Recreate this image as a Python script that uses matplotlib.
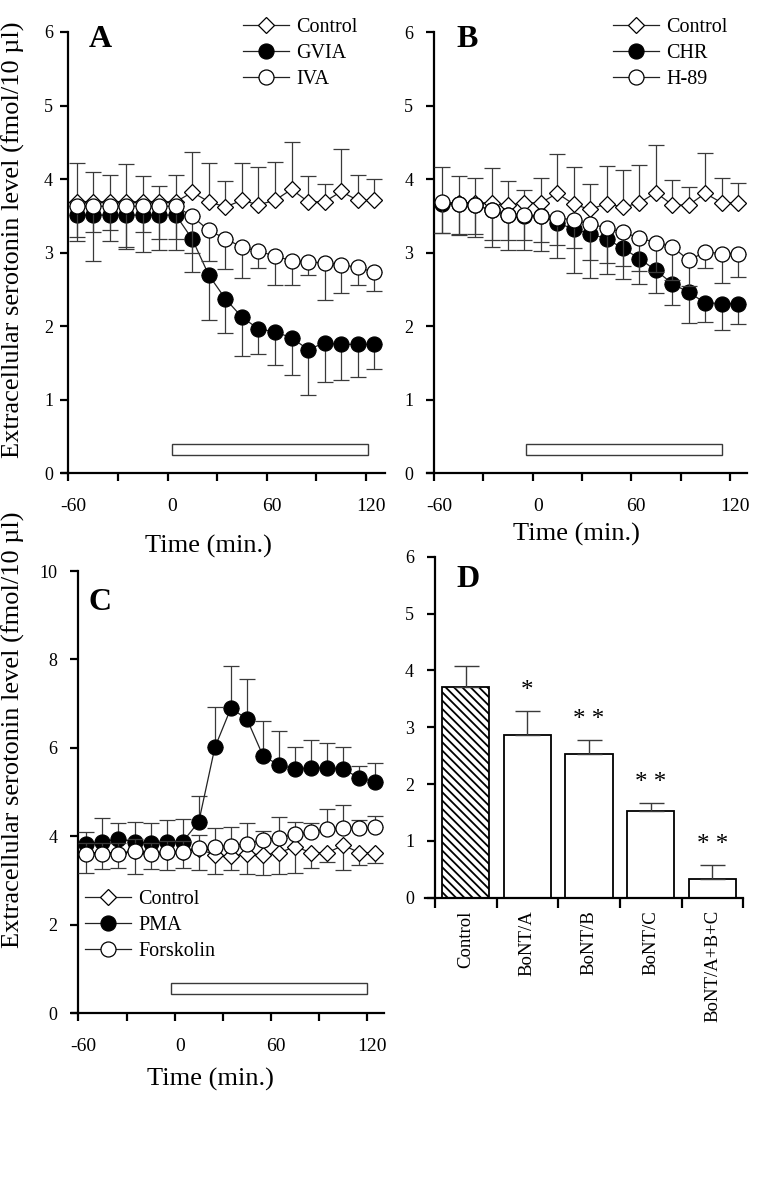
import numpy as np
import matplotlib
matplotlib.use('Agg')
import matplotlib.pyplot as plt
from matplotlib.patches import Rectangle
from matplotlib.transforms import ScaledTranslation

plt.rcParams['font.family'] = ['Liberation Serif', 'DejaVu Serif']
plt.rcParams['hatch.linewidth'] = 1.3
plt.rcParams['hatch.color'] = 'black'

# ---------------- data ----------------
times = [-55, -45, -35, -25, -15, -5, 5, 15, 25, 35, 45, 55, 65, 75, 85, 95, 105, 115, 125]
time_ticks = [-60, -30, 0, 30, 60, 90, 120]
time_labels = ['-60', '', '0', '', '60', '', '120']

# Panel A
a_ctrl = [3.69, 3.69, 3.69, 3.69, 3.69, 3.69, 3.69, 3.82, 3.69, 3.62, 3.71, 3.65, 3.71, 3.86, 3.69, 3.69, 3.83, 3.71, 3.71]
a_ctrl_up = [0.53, 0.40, 0.36, 0.52, 0.35, 0.22, 0.36, 0.55, 0.53, 0.35, 0.51, 0.52, 0.52, 0.65, 0.35, 0.24, 0.58, 0.34, 0.29]
a_gvia = [3.51, 3.51, 3.51, 3.51, 3.51, 3.51, 3.51, 3.18, 2.69, 2.37, 2.12, 1.96, 1.92, 1.84, 1.68, 1.77, 1.75, 1.75, 1.75]
a_gvia_lo = [0.30, 0.62, 0.36, 0.46, 0.50, 0.48, 0.48, 0.45, 0.61, 0.47, 0.53, 0.34, 0.45, 0.51, 0.62, 0.53, 0.49, 0.45, 0.34]
a_iva = [3.63, 3.63, 3.63, 3.63, 3.63, 3.63, 3.63, 3.49, 3.30, 3.19, 3.07, 3.02, 2.95, 2.89, 2.87, 2.86, 2.83, 2.80, 2.73]
a_iva_lo = [0.48, 0.35, 0.33, 0.55, 0.35, 0.45, 0.45, 0.50, 0.41, 0.41, 0.42, 0.23, 0.39, 0.33, 0.17, 0.50, 0.38, 0.24, 0.26]
a_labels = ['Control', 'GVIA', 'IVA']
a_treat = (3, 121)

# Panel B
b_ctrl = [3.68, 3.68, 3.68, 3.68, 3.65, 3.68, 3.68, 3.81, 3.66, 3.59, 3.67, 3.62, 3.68, 3.82, 3.65, 3.65, 3.81, 3.68, 3.68]
b_ctrl_up = [0.49, 0.36, 0.34, 0.47, 0.33, 0.18, 0.34, 0.53, 0.51, 0.34, 0.51, 0.50, 0.52, 0.64, 0.34, 0.24, 0.55, 0.34, 0.27]
b_chr = [3.66, 3.66, 3.65, 3.58, 3.51, 3.50, 3.50, 3.41, 3.32, 3.26, 3.19, 3.06, 2.92, 2.76, 2.58, 2.46, 2.32, 2.31, 2.31]
b_chr_lo = [0.39, 0.42, 0.43, 0.50, 0.47, 0.46, 0.48, 0.48, 0.60, 0.60, 0.48, 0.41, 0.34, 0.31, 0.29, 0.41, 0.26, 0.36, 0.28]
b_h89 = [3.69, 3.67, 3.65, 3.58, 3.51, 3.51, 3.50, 3.47, 3.45, 3.39, 3.34, 3.28, 3.20, 3.14, 3.08, 2.90, 3.01, 2.99, 2.99]
b_h89_lo = [0.42, 0.41, 0.39, 0.41, 0.34, 0.33, 0.35, 0.36, 0.39, 0.49, 0.48, 0.46, 0.45, 0.40, 0.45, 0.35, 0.21, 0.40, 0.32]
b_labels = ['Control', 'CHR', 'H-89']
b_treat = (-4, 115)

# Panel C
c_ctrl = [3.62, 3.62, 3.62, 3.66, 3.62, 3.64, 3.64, 3.72, 3.58, 3.55, 3.61, 3.58, 3.63, 3.77, 3.63, 3.63, 3.80, 3.63, 3.63]
c_ctrl_lo = [0.45, 0.35, 0.33, 0.50, 0.35, 0.40, 0.35, 0.48, 0.43, 0.31, 0.45, 0.46, 0.48, 0.59, 0.34, 0.20, 0.56, 0.27, 0.23]
c_pma = [3.83, 3.88, 3.94, 3.88, 3.84, 3.88, 3.88, 4.33, 6.01, 6.90, 6.65, 5.82, 5.61, 5.53, 5.55, 5.55, 5.53, 5.31, 5.24]
c_pma_up = [0.28, 0.53, 0.37, 0.45, 0.47, 0.50, 0.52, 0.59, 0.91, 0.96, 0.90, 0.78, 0.78, 0.48, 0.63, 0.55, 0.48, 0.28, 0.41]
c_fsk = [3.60, 3.60, 3.61, 3.68, 3.61, 3.65, 3.65, 3.73, 3.77, 3.79, 3.83, 3.92, 3.97, 4.05, 4.09, 4.16, 4.20, 4.18, 4.21]
c_fsk_up = [0.25, 0.25, 0.25, 0.25, 0.25, 0.25, 0.25, 0.30, 0.41, 0.43, 0.48, 0.20, 0.46, 0.28, 0.22, 0.45, 0.51, 0.20, 0.24]
c_labels = ['Control', 'PMA', 'Forskolin']
c_treat = (-2, 120)

# Panel D
d_cats = ['Control', 'BoNT/A', 'BoNT/B', 'BoNT/C', 'BoNT/A+B+C']
d_vals = [3.71, 2.87, 2.53, 1.52, 0.33]
d_err = [0.37, 0.42, 0.24, 0.15, 0.25]
d_sig = ['', '*', '* *', '* *', '* *']

ylabel = 'Extracellular serotonin level (fmol/10 \u00b5l)'
xlabel = 'Time (min.)'

# ---------------- layout ----------------
W, H = 760, 1199
fig = plt.figure(figsize=(W / 100, H / 100), dpi=100)


def px_axes(left, top, right, bottom):
    return fig.add_axes([left / W, 1 - bottom / H, (right - left) / W, (bottom - top) / H])


LC = '#222222'
EC = '#3a3a3a'


def style(ax, ypad):
    for s in ['top', 'right']:
        ax.spines[s].set_visible(False)
    for s in ['left', 'bottom']:
        ax.spines[s].set_linewidth(1.6)
    ax.tick_params(axis='both', direction='out', length=6, width=1.6, labelsize=13)
    ax.tick_params(axis='y', pad=ypad)


def series(ax, y, lo, up, marker, face, ms, label, z):
    ax.errorbar(times, y, yerr=[lo, up], fmt='none', ecolor=EC, elinewidth=0.9,
                capsize=5.5, capthick=0.9, zorder=z)
    ln, = ax.plot(times, y, marker=marker, mfc=face, mec='black', ms=ms, mew=0.9,
                  color=LC, lw=0.9, label=label, zorder=z + 0.5)
    return ln


def time_panel(ax, ylim, yticks, treat, rect_y, rect_h, xmax, ypad):
    style(ax, ypad)
    ax.set_xlim(-64, xmax)
    ax.set_ylim(*ylim)
    ax.spines['left'].set_position(('data', -60))
    ax.set_xticks(time_ticks)
    ax.set_xticklabels(time_labels)
    ax.tick_params(axis='x', pad=12, labelsize=14)
    shift = ScaledTranslation(5 / 100, 0, fig.dpi_scale_trans)
    for lab in ax.get_xticklabels():
        lab.set_transform(lab.get_transform() + shift)
    ax.set_yticks(yticks)
    ax.add_patch(Rectangle((treat[0], rect_y), treat[1] - treat[0], rect_h,
                           facecolor='white', edgecolor=EC, lw=1.0, zorder=1))


def legend(ax, handles, x, y):
    ax.legend(handles=handles, loc='upper left', bbox_to_anchor=(x / W, 1 - y / H),
              bbox_transform=fig.transFigure, frameon=False, borderpad=0,
              borderaxespad=0, handlelength=2.3, handletextpad=0.35,
              labelspacing=0.33, fontsize=14.5, numpoints=1)


zeros = np.zeros(len(times))

# Panel A
axA = px_axes(61.7, 32, 385, 473)
time_panel(axA, (0, 6), range(0, 7), a_treat, 0.25, 0.15, 131.5, 5)
h1 = series(axA, a_ctrl, zeros, a_ctrl_up, 'D', 'white', 8.5, a_labels[0], 3)
h2 = series(axA, a_gvia, a_gvia_lo, zeros, 'o', 'black', 10.8, a_labels[1], 4)
h3 = series(axA, a_iva, a_iva_lo, zeros, 'o', 'white', 10.8, a_labels[2], 5)
legend(axA, [h1, h2, h3], 243, 18)
axA.set_ylabel(ylabel, fontsize=19)
axA.yaxis.set_label_coords((25 - 61.7) / 323.3, 0.528)
axA.set_xlabel(xlabel, fontsize=19)
axA.xaxis.set_label_coords(0.4525, -0.1406)
fig.text(89 / W, 1 - 47 / H, 'A', fontsize=23, fontweight='bold', va='baseline')

# Panel B
axB = px_axes(427.4, 32.3, 746.7, 473.3)
time_panel(axB, (0, 6), range(0, 7), b_treat, 0.25, 0.15, 130.2, 9)
h1 = series(axB, b_ctrl, zeros, b_ctrl_up, 'D', 'white', 8.5, b_labels[0], 3)
h2 = series(axB, b_chr, b_chr_lo, zeros, 'o', 'black', 10.8, b_labels[1], 4)
h3 = series(axB, b_h89, b_h89_lo, zeros, 'o', 'white', 10.8, b_labels[2], 5)
legend(axB, [h1, h2, h3], 612.7, 18)
axB.set_xlabel(xlabel, fontsize=19)
axB.xaxis.set_label_coords(0.4676, -0.1127)
fig.text(456.7 / W, 1 - 47 / H, 'B', fontsize=23, fontweight='bold', va='baseline')

# Panel C
axC = px_axes(71.9, 571, 384, 1013.3)
time_panel(axC, (0, 10), range(0, 11, 2), c_treat, 0.44, 0.25, 130.3, 9)
h1 = series(axC, c_ctrl, c_ctrl_lo, zeros, 'D', 'white', 8.5, c_labels[0], 3)
h2 = series(axC, c_pma, zeros, c_pma_up, 'o', 'black', 10.8, c_labels[1], 4)
h3 = series(axC, c_fsk, zeros, c_fsk_up, 'o', 'white', 10.8, c_labels[2], 5)
legend(axC, [h1, h2, h3], 85, 890)
axC.set_ylabel(ylabel, fontsize=19)
axC.yaxis.set_label_coords((25 - 71.9) / 312.1, 0.64)
axC.set_xlabel(xlabel, fontsize=19)
axC.xaxis.set_label_coords(0.4425, -0.1237)
fig.text(89 / W, 1 - 610 / H, 'C', fontsize=23, fontweight='bold', va='baseline')

# Panel D
axD = px_axes(425, 556.7, 743.3, 897.7)
style(axD, 9)
xpos = np.arange(len(d_cats))
axD.set_xlim(-0.66, len(d_cats) - 0.5)
axD.set_ylim(0, 6)
axD.spines['left'].set_position(('data', -0.5))
bars = axD.bar(xpos, d_vals, width=0.765, color='white', edgecolor='black', lw=1.3, zorder=2)
bars[0].set_hatch('\\\\\\\\')
axD.errorbar(xpos, d_vals, yerr=[np.zeros(len(d_vals)), d_err], fmt='none', ecolor=EC,
             elinewidth=1.0, capsize=9, capthick=1.0, zorder=3)
for xi, v, e, s in zip(xpos, d_vals, d_err, d_sig):
    if s:
        axD.text(xi, v + e + 0.25, s, ha='center', va='baseline', fontsize=18)
axD.set_yticks(range(0, 7))
axD.set_xticks(xpos)
axD.set_xticklabels(d_cats, rotation=90, fontsize=13.5)
axD.tick_params(axis='x', length=0, pad=9)
axD.set_xticks(np.arange(-0.5, len(d_cats)), minor=True)
axD.tick_params(axis='x', which='minor', direction='out', length=7, width=1.6)
fig.text(456.7 / W, 1 - 587 / H, 'D', fontsize=23, fontweight='bold', va='baseline')

fig.savefig('out.png', dpi=100)
